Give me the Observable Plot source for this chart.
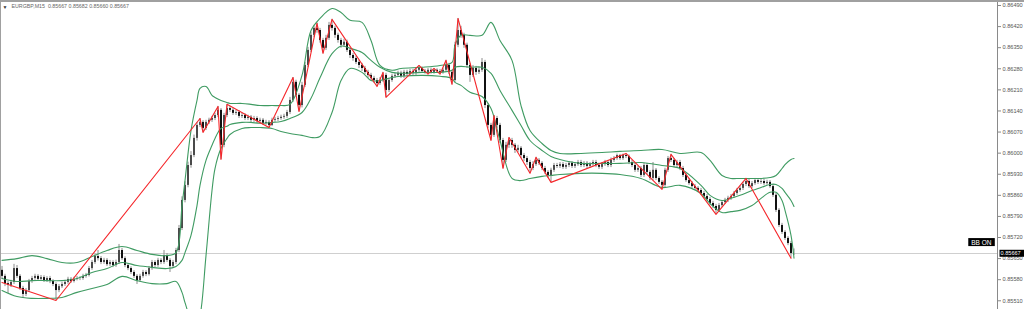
<!DOCTYPE html>
<html><head><meta charset="utf-8">
<script src="https://cdn.jsdelivr.net/npm/d3@7"></script>
<script src="https://cdn.jsdelivr.net/npm/@observablehq/plot@0.6"></script>
<style>
html,body{margin:0;padding:0;background:#fff;}
#chart{width:1024px;height:309px;overflow:hidden;}
</style></head><body><div id="chart"></div>
<script>
// prices are stored in points above 0.85000 (1 point = 0.00001)
const BASE = 0.85, UNIT = 1e-5;
const symbol = "EURGBP,M15";
const lastQuote = [0.85667, 0.85682, 0.85660, 0.85667]; // O H L C of current bar
const currentPrice = 0.85667;
const indicatorTag = "BB ON";
const priceTicks = [0.86490,0.86420,0.86350,0.86280,0.86210,0.86140,0.86070,0.86000,0.85930,0.85860,0.85790,0.85720,0.85650,0.85580,0.85510];
const priceRange = [0.854811, 0.865066];
const barRange = [-0.5, 331.83];

const firstOpen = 611;
const closePts = [
591,567,561,571,617,591,551,531,544,574,
584,591,581,587,577,584,574,564,544,557,
564,571,581,574,581,584,584,591,594,617,
637,657,650,637,644,630,637,627,637,677,
650,627,617,604,591,577,591,604,597,617,
637,627,644,637,660,644,624,637,677,750,
843,893,959,992,1049,1092,1102,1082,1102,1109,
1115,1125,1142,1026,1125,1148,1142,1132,1135,1122,
1125,1115,1119,1109,1115,1105,1109,1099,1102,1092,
1109,1112,1115,1119,1122,1135,1175,1235,1192,1158,
1225,1291,1341,1391,1414,1407,1374,1348,1381,1424,
1414,1391,1374,1358,1368,1341,1324,1314,1301,1291,
1281,1268,1258,1248,1241,1231,1241,1258,1208,1241,
1255,1258,1265,1255,1268,1261,1271,1265,1275,1281,
1271,1268,1275,1268,1275,1271,1268,1275,1291,1268,
1241,1358,1407,1391,1358,1291,1258,1281,1268,1275,
1301,1158,1092,1059,1115,1092,1042,976,1026,1042,
1026,1009,1016,992,982,969,949,962,976,966,
949,936,926,943,959,956,962,953,959,966,
956,962,969,959,966,956,962,969,959,953,
962,969,959,976,982,992,982,992,989,969,
959,943,949,926,959,936,916,943,916,903,
893,943,982,976,959,969,949,926,909,899,
889,883,876,866,856,846,833,823,810,826,
836,843,850,856,866,876,883,896,906,889,
899,909,903,906,899,903,889,860,810,760,
737,717,700,667,667];
const highPts = [
624,598,574,578,631,627,597,558,551,581,
591,598,597,594,593,590,591,580,570,564,
571,578,588,587,588,591,590,598,601,624,
644,665,677,657,651,650,644,643,645,697,
684,656,633,623,610,597,598,611,610,624,
644,643,651,650,677,667,650,644,684,760,
855,905,970,1005,1060,1102,1115,1108,1109,1116,
1122,1132,1155,1148,1132,1162,1155,1149,1142,1141,
1132,1131,1126,1125,1122,1121,1116,1115,1109,1108,
1116,1119,1122,1126,1129,1142,1185,1251,1242,1198,
1235,1301,1351,1401,1424,1431,1414,1381,1391,1434,
1444,1421,1398,1381,1378,1375,1348,1331,1321,1308,
1298,1288,1275,1265,1255,1248,1251,1268,1265,1248,
1262,1265,1272,1272,1275,1275,1278,1278,1282,1291,
1285,1278,1281,1282,1281,1280,1278,1282,1308,1298,
1275,1368,1447,1421,1398,1365,1298,1291,1288,1285,
1314,1308,1165,1099,1125,1122,1099,1049,1036,1052,
1049,1032,1026,1022,999,989,976,972,986,982,
972,956,942,950,966,966,969,969,966,972,
972,969,976,976,972,972,969,976,976,966,
969,976,976,984,989,997,996,997,999,994,
976,966,956,956,966,966,942,969,949,922,
909,950,989,996,982,976,976,956,933,916,
906,896,889,883,873,863,853,840,830,833,
843,850,857,863,873,883,890,903,916,913,
906,916,913,913,913,910,909,896,866,816,
767,743,723,707,682];
const lowPts = [
581,557,534,554,564,584,544,518,524,538,
568,578,574,575,571,571,567,557,511,537,
551,558,565,568,569,576,577,578,585,589,
611,631,642,630,631,624,623,620,621,631,
644,620,610,597,584,564,571,585,590,592,
611,620,621,630,631,637,604,617,630,670,
743,835,885,950,985,1040,1085,1069,1075,1095,
1102,1108,1118,979,1018,1118,1135,1125,1125,1115,
1115,1108,1108,1102,1102,1098,1098,1092,1092,1085,
1088,1102,1105,1109,1112,1115,1128,1168,1185,1138,
1150,1218,1284,1334,1384,1398,1365,1331,1341,1374,
1405,1381,1365,1348,1351,1334,1314,1305,1294,1281,
1271,1261,1248,1238,1231,1221,1225,1235,1185,1201,
1235,1248,1251,1248,1248,1255,1255,1258,1258,1268,
1265,1262,1262,1262,1262,1265,1262,1262,1268,1261,
1228,1235,1350,1381,1348,1281,1235,1251,1258,1261,
1268,1148,1082,1042,1052,1082,1032,949,969,1016,
1016,999,1002,982,972,959,933,942,956,959,
942,929,916,903,936,949,949,946,946,952,
949,949,956,952,952,949,949,956,952,946,
946,956,952,952,969,976,976,976,982,962,
952,936,936,919,919,929,909,909,909,896,
880,886,936,969,952,952,942,919,903,893,
883,876,869,860,850,840,826,816,797,803,
820,830,836,843,850,860,870,876,889,883,
883,893,896,896,893,893,883,853,803,753,
730,710,693,651,660];

// ZigZag pivots: bar index and price (points)
const zigIdx = [0,18,66,67,72,73,75,89,97,99,105,107,110,125,127,128,139,142,144,146,148,150,152,163,164,167,169,176,178,183,208,220,223,238,248,263];
const zigPts = [571,511,1115,1069,1155,979,1162,1085,1251,1138,1431,1331,1444,1221,1268,1185,1291,1262,1281,1262,1308,1228,1447,1042,1125,949,1052,933,986,903,999,880,996,797,916,651];

// Bollinger Bands sampled at bar indexes (points)
const bbIdx = [0,5,10,15,20,25,30,35,40,45,50,55,58,60,61,63,65,66,68,70,71,73,75,76,80,83,86,90,93,96,100,103,106,110,113,116,120,123,126,130,133,140,146,150,151,153,156,160,163,166,170,173,176,180,183,186,193,200,206,213,220,226,233,236,240,243,246,250,253,256,258,260,261,263,264];
const bbUpper = [644,650,660,650,637,637,657,677,690,677,664,660,670,826,909,1075,1175,1215,1221,1192,1185,1175,1168,1165,1165,1162,1158,1158,1158,1162,1258,1407,1447,1480,1467,1441,1434,1374,1291,1275,1281,1285,1291,1301,1358,1391,1391,1391,1434,1374,1308,1158,1075,1032,1009,999,999,1002,1006,1009,1012,999,1002,976,926,916,916,916,916,919,926,949,962,979,982];
const bbMiddle = [584,574,577,577,577,584,604,617,637,627,621,617,624,644,670,727,826,893,976,1026,1049,1082,1089,1095,1102,1102,1099,1102,1105,1115,1135,1182,1250,1330,1355,1348,1334,1308,1285,1268,1265,1268,1268,1275,1285,1288,1285,1285,1265,1208,1142,1092,1042,1009,989,979,966,966,966,969,959,949,893,860,843,850,860,876,886,896,896,883,870,843,823];
const bbLower = [544,524,518,518,521,538,551,564,591,577,567,567,574,538,504,451,438,461,660,876,949,1016,1049,1062,1082,1085,1085,1082,1072,1065,1059,1052,1055,1135,1241,1281,1268,1241,1241,1251,1255,1258,1255,1248,1235,1225,1202,1188,1148,1042,916,909,916,923,926,929,933,933,929,916,886,893,866,833,803,806,810,826,850,870,870,843,810,727,651];

const px = v => BASE + v * UNIT;
const candles = closePts.map((c, i) => ({
  i, o: px(i ? closePts[i - 1] : firstOpen), c: px(c), h: px(highPts[i]), l: px(lowPts[i])
}));
const bull = candles.filter(d => d.c >= d.o), bear = candles.filter(d => d.c < d.o);
const bands = bbIdx.map((i, k) => ({i, u: px(bbUpper[k]), m: px(bbMiddle[k]), l: px(bbLower[k])}));
const zig = zigIdx.map((i, k) => ({i, v: px(zigPts[k])}));
const green = "#3f9b62", red = "#f5262a";
const FONT = "'Liberation Sans', Arial, sans-serif";

const plot = Plot.plot({
  width: 1024, height: 309,
  marginTop: 0, marginBottom: 0, marginLeft: 0, marginRight: 27,
  x: {domain: barRange, axis: null},
  y: {domain: priceRange, axis: null},
  style: {background: "#fff", fontFamily: FONT, overflow: "hidden"},
  marks: [
    Plot.ruleY([currentPrice], {stroke: "#cfcfcf", strokeWidth: 1}),
    Plot.ruleX(candles, {x: "i", y1: "l", y2: "h", stroke: "#8c8c8c", strokeWidth: 1}),
    Plot.ruleX(bull, {x: "i", y1: "o", y2: "c", stroke: "#4a4a4a", strokeWidth: 2}),
    Plot.ruleX(bear, {x: "i", y1: "o", y2: "c", stroke: "#111", strokeWidth: 2}),
    Plot.line(bands, {x: "i", y: "u", stroke: green, strokeWidth: 1.1, curve: "catmull-rom"}),
    Plot.line(bands, {x: "i", y: "m", stroke: green, strokeWidth: 1.1, curve: "catmull-rom"}),
    Plot.line(bands, {x: "i", y: "l", stroke: green, strokeWidth: 1.1, curve: "catmull-rom"}),
    Plot.line(zig, {x: "i", y: "v", stroke: red, strokeWidth: 1.1}),
    Plot.ruleX([barRange[1]], {stroke: "#8a8a8a", strokeWidth: 1}),
    Plot.axisY(priceTicks, {anchor: "right", tickSize: 3, tickPadding: 2, tickFormat: d => d.toFixed(5),
      fontSize: 5.6, fill: "#555", stroke: "#888"}),
    Plot.text([`${symbol}  ${lastQuote.map(v => v.toFixed(5)).join(" ")}`], {frameAnchor: "top-left", dx: 11, dy: 4, fontSize: 5.3, fill: "#666", textAnchor: "start", lineAnchor: "top"}),
    Plot.text(["\u25BC"], {frameAnchor: "top-left", dx: 2, dy: 5, fontSize: 5, fill: "#333", textAnchor: "start", lineAnchor: "top"}),
    Plot.text([indicatorTag], {frameAnchor: "right", dx: -6, dy: 87.5, textAnchor: "end", fontSize: 6.5, fill: "#fff"}),
    Plot.text([currentPrice], {y: d => d, text: d => d.toFixed(5), frameAnchor: "right", dx: 3, textAnchor: "start", fontSize: 5.6, fill: "#fff"})
  ]
});
document.getElementById("chart").appendChild(plot);

// black label boxes behind the tag texts
const priceLabel = currentPrice.toFixed(5);
d3.select(plot).selectAll("text").each(function() {
  const s = this.textContent;
  if (s !== indicatorTag && !(s === priceLabel && this.getAttribute("fill") === "#fff" || (s === priceLabel && this.parentNode.getAttribute("fill") === "#fff"))) return;
  const b = this.getBBox();
  const r = document.createElementNS("http://www.w3.org/2000/svg", "rect");
  const isPrice = s === priceLabel;
  r.setAttribute("x", b.x - (isPrice ? 1 : 3));
  r.setAttribute("y", b.y - 0.5);
  r.setAttribute("width", isPrice ? 40 : b.width + 6);
  r.setAttribute("height", b.height + 1);
  r.setAttribute("fill", "#000");
  const t = this.getAttribute("transform");
  if (t) r.setAttribute("transform", t);
  this.parentNode.insertBefore(r, this);
});
// window border (top and left)
const svg = d3.select(plot);
svg.append("rect").attr("x", 0).attr("y", 0).attr("width", 1024).attr("height", 2).attr("fill", "#a0a0a0");
svg.append("rect").attr("x", 0).attr("y", 0).attr("width", 1).attr("height", 309).attr("fill", "#a0a0a0");
</script></body></html>
